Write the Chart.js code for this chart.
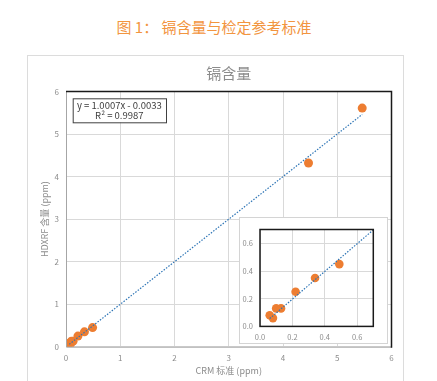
<!DOCTYPE html>
<html>
<head>
<meta charset="utf-8">
<script src="https://cdn.jsdelivr.net/npm/chart.js@4/dist/chart.umd.min.js"></script>
<style>
  html, body { margin: 0; padding: 0; background: #ffffff; }
  body { width: 437px; height: 381px; position: relative; overflow: hidden; font-family: "Noto Sans CJK SC", "Noto Sans", sans-serif; }
  #caption { position: absolute; left: 0; top: 16px; width: 428px; text-align: center; font-size: 15px; line-height: 22px; color: #F2953F; }
  #frame { position: absolute; left: 27px; top: 55px; width: 375px; height: 340px; border: 1px solid #dcdcdc; }
  #mainWrap { position: absolute; left: 28px; top: 56px; width: 375px; height: 325px; }
  #insetWrap { position: absolute; left: 239px; top: 217px; width: 147px; height: 125px; border: 1px solid #d4d4d4; background: #fff; }
  canvas { display: block; }
</style>
</head>
<body>
<div id="caption">图 1： 镉含量与检定参考标准</div>
<div id="frame"></div>
<div id="mainWrap"><canvas id="main" width="375" height="325"></canvas></div>
<div id="insetWrap"><canvas id="inset" width="147" height="125"></canvas></div>
<script>
// ---- data ----
const crmValues   = [0.06, 0.08, 0.10, 0.13, 0.22, 0.34, 0.49, 4.47, 5.46];
const hdxrfValues = [0.08, 0.06, 0.13, 0.13, 0.25, 0.35, 0.45, 4.32, 5.61];
const trendSlope = 1.0007;
const trendIntercept = -0.0033;
const mainTicks = [0, 1, 2, 3, 4, 5, 6];
const insetTicks = [0, 0.2, 0.4, 0.6];
const equationText = ['y = 1.0007x - 0.0033', 'R\u00B2 = 0.9987'];
const chartTitle = '镉含量';
const xTitle = 'CRM 标准 (ppm)';
const yTitle = 'HDXRF 含量 (ppm)';

const FONT = '"Noto Sans CJK SC", "Noto Sans", sans-serif';
const ORANGE = '#ED7D31';
const BLUE = '#2E75B6';
const TICKCOL = '#8c8c8c';
const GRIDCOL = '#d9d9d9';

const points = crmValues.map((x, i) => ({ x: x, y: hdxrfValues[i] }));
const trend = (x) => ({ x: x, y: trendSlope * x + trendIntercept });

Chart.defaults.font.family = FONT;
Chart.defaults.animation = false;

function fixTicks(values) {
  return function (scale) {
    scale.ticks = values.map(v => ({ value: v }));
  };
}

const mainFrame = {
  id: 'mainFrame',
  afterDraw(chart) {
    const { ctx, chartArea: a } = chart;
    ctx.save();
    ctx.lineWidth = 1;
    ctx.strokeStyle = '#a6a6a6';
    ctx.beginPath();
    ctx.moveTo(a.left + 0.5, a.top);
    ctx.lineTo(a.left + 0.5, a.bottom + 0.5);
    ctx.lineTo(a.right, a.bottom + 0.5);
    ctx.stroke();
    ctx.lineWidth = 1.5;
    ctx.strokeStyle = '#1a1a1a';
    ctx.beginPath();
    ctx.moveTo(a.left, a.top);
    ctx.lineTo(a.right, a.top);
    ctx.lineTo(a.right, a.bottom + 1);
    ctx.stroke();
    // equation box
    const bx = a.left + 6.7, by = a.top + 6.8, bw = 93.3, bh = 24;
    ctx.fillStyle = '#ffffff';
    ctx.fillRect(bx, by, bw, bh);
    ctx.lineWidth = 1;
    ctx.strokeStyle = '#404040';
    ctx.strokeRect(bx + 0.5, by + 0.5, bw, bh);
    ctx.fillStyle = '#404040';
    ctx.font = '9.5px ' + FONT;
    ctx.textAlign = 'center';
    ctx.textBaseline = 'middle';
    ctx.fillText(equationText[0], bx + bw / 2, by + 6.8);
    ctx.fillText(equationText[1], bx + bw / 2, by + 16.8);
    ctx.restore();
  }
};

const insetFrame = {
  id: 'insetFrame',
  afterDraw(chart) {
    const { ctx, chartArea: a } = chart;
    ctx.save();
    ctx.lineWidth = 1.5;
    ctx.strokeStyle = '#1a1a1a';
    ctx.strokeRect(a.left, a.top, a.right - a.left, a.bottom - a.top);
    ctx.restore();
  }
};

new Chart(document.getElementById('main'), {
  type: 'scatter',
  data: {
    datasets: [
      {
        type: 'line',
        data: [trend(crmValues[0]), trend(crmValues[crmValues.length - 1])],
        borderColor: BLUE,
        borderWidth: 1.2,
        borderDash: [1.5, 1.5],
        pointRadius: 0,
        fill: false
      },
      {
        data: points,
        backgroundColor: ORANGE,
        borderWidth: 0,
        pointRadius: 4.5
      }
    ]
  },
  options: {
    responsive: false,
    layout: { padding: { left: 0, right: 11.5, top: 0, bottom: 0 } },
    plugins: {
      legend: { display: false },
      tooltip: { enabled: false },
      title: {
        display: true,
        text: chartTitle,
        fullSize: false,
        color: '#8c8c8c',
        font: { size: 15, weight: 'normal', family: FONT },
        padding: { top: 8, bottom: 9.5 }
      }
    },
    scales: {
      x: {
        type: 'linear', min: 0, max: 6,
        afterBuildTicks: fixTicks(mainTicks),
        afterFit(s) { s.height = 34.3; },
        grid: { color: GRIDCOL, drawTicks: false },
        border: { display: false },
        ticks: { color: TICKCOL, font: { size: 8 }, padding: 6 },
        title: { display: true, text: xTitle, color: TICKCOL, font: { size: 9 }, padding: { top: 0, bottom: 5 } }
      },
      y: {
        type: 'linear', min: 0, max: 6,
        afterBuildTicks: fixTicks(mainTicks),
        afterFit(s) { s.width = 38; },
        grid: { color: GRIDCOL, drawTicks: false },
        border: { display: false },
        ticks: { color: TICKCOL, font: { size: 8 }, padding: 7 },
        title: { display: true, text: yTitle, color: TICKCOL, font: { size: 9 }, padding: { top: 11.6, bottom: 0 } }
      }
    }
  },
  plugins: [mainFrame]
});

new Chart(document.getElementById('inset'), {
  type: 'scatter',
  data: {
    datasets: [
      {
        type: 'line',
        data: [trend(crmValues[0]), trend(0.7)],
        borderColor: BLUE,
        borderWidth: 1.2,
        borderDash: [1.5, 1.5],
        pointRadius: 0,
        fill: false
      },
      {
        data: points,
        backgroundColor: ORANGE,
        borderWidth: 0,
        pointRadius: 4.3
      }
    ]
  },
  options: {
    responsive: false,
    layout: { padding: { left: 0, right: 13.7, top: 10, bottom: 0 } },
    plugins: { legend: { display: false }, tooltip: { enabled: false }, title: { display: false } },
    scales: {
      x: {
        type: 'linear', min: 0, max: 0.7,
        afterBuildTicks: fixTicks(insetTicks),
        afterFit(s) { s.height = 16.6; },
        grid: { color: GRIDCOL, drawTicks: false },
        border: { display: false },
        ticks: { color: TICKCOL, font: { size: 7.5 }, padding: 6, callback: v => Number(v).toFixed(1) }
      },
      y: {
        type: 'linear', min: 0, max: 0.7,
        afterBuildTicks: fixTicks(insetTicks),
        afterFit(s) { s.width = 20; },
        grid: { color: GRIDCOL, drawTicks: false },
        border: { display: false },
        ticks: { color: TICKCOL, font: { size: 7.5 }, padding: 7, callback: v => Number(v).toFixed(1) }
      }
    }
  },
  plugins: [insetFrame]
});
</script>
</body>
</html>
